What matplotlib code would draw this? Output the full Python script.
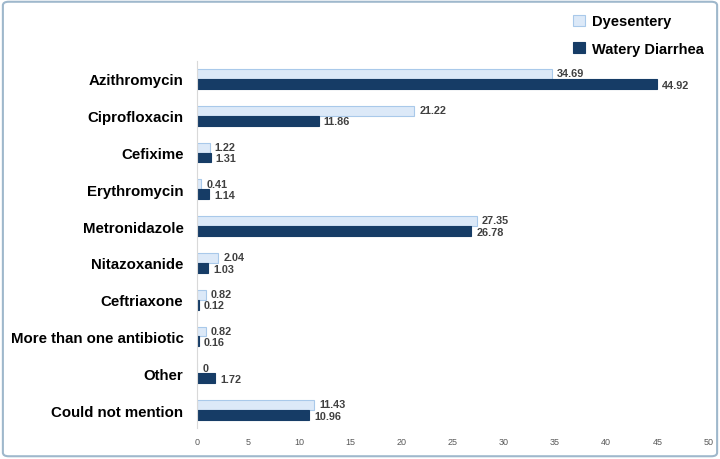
import matplotlib
matplotlib.use('Agg')
import matplotlib.pyplot as plt
import numpy as np
from matplotlib.patches import FancyBboxPatch

categories = ['Azithromycin', 'Ciprofloxacin', 'Cefixime', 'Erythromycin', 'Metronidazole',
              'Nitazoxanide', 'Ceftriaxone', 'More than one antibiotic', 'Other', 'Could not mention']
dysentery = [34.69, 21.22, 1.22, 0.41, 27.35, 2.04, 0.82, 0.82, 0, 11.43]
watery = [44.92, 11.86, 1.31, 1.14, 26.78, 1.03, 0.12, 0.16, 1.72, 10.96]
dys_labels = ['34.69', '21.22', '1.22', '0.41', '27.35', '2.04', '0.82', '0.82', '0', '11.43']
wat_labels = ['44.92', '11.86', '1.31', '1.14', '26.78', '1.03', '0.12', '0.16', '1.72', '10.96']

plt.rcParams['font.family'] = ['Liberation Sans', 'DejaVu Sans']

light = '#dce9f8'
light_edge = '#a9c9ea'
dark = '#163c66'

fig = plt.figure(figsize=(7.2, 4.6), dpi=100)
ax = fig.add_axes([0.274, 1 - 429.4 / 460, 0.71, (429.4 - 61.6) / 460])

y = np.arange(len(categories))
h = 0.27
b1 = ax.barh(y - h / 2, dysentery, height=h, color=light, edgecolor=light_edge, linewidth=0.8, label='Dyesentery')
b2 = ax.barh(y + h / 2, watery, height=h, color=dark, edgecolor=dark, linewidth=0.8, label='Watery Diarrhea')

for yi, v, s in zip(y, dysentery, dys_labels):
    ax.text(v + 0.5, yi - h / 2 - 0.02, s, va='center', ha='left', fontsize=7.8, fontweight='bold', color='#404040')
for yi, v, s in zip(y, watery, wat_labels):
    ax.text(v + 0.5, yi + h / 2 + 0.02, s, va='center', ha='left', fontsize=7.8, fontweight='bold', color='#404040')

ax.set_xlim(0, 50)
ax.set_ylim(len(categories) - 0.5, -0.5)
ax.set_xticks(range(0, 51, 5))
ax.set_yticks(y)
ax.set_yticklabels(categories, fontsize=10.8, fontweight='bold')
ax.tick_params(axis='x', length=0, labelsize=6.5, labelcolor='#595959', pad=6)
ax.tick_params(axis='y', length=0, pad=10)
for sp in ['top', 'right', 'bottom']:
    ax.spines[sp].set_visible(False)
ax.spines['left'].set_color('#d9d9d9')

fig.legend(handles=[b1, b2], loc='upper left', bbox_to_anchor=(0.778, 0.995), frameon=False,
           prop={'size': 10.5, 'weight': 'bold'}, handlelength=0.8, handleheight=0.8,
           labelspacing=0.9, handletextpad=0.45)

fig.patches.append(FancyBboxPatch((0.004, 0.006), 0.992, 0.988, boxstyle='round,pad=0,rounding_size=0.008',
                                  transform=fig.transFigure, fill=False, edgecolor='#9fb8cc', linewidth=1.5))

fig.savefig('out.png', dpi=100)
